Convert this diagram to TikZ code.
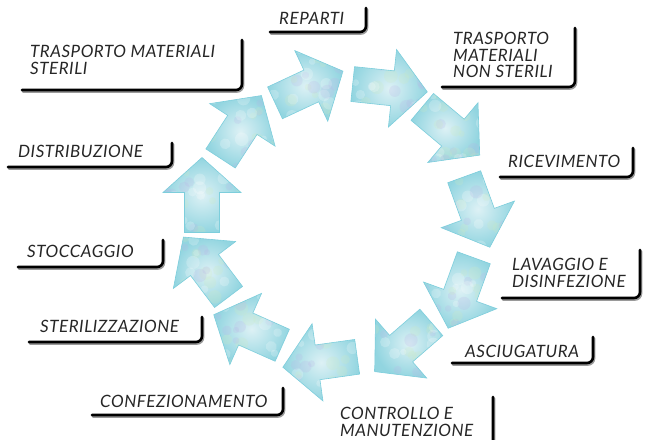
\documentclass[tikz,border=0pt]{standalone}
\usepackage{fontspec}
\setmainfont{Lato}
\usepackage{tikz}
\definecolor{ciano}{HTML}{92D5E0}
\definecolor{azzurrino}{HTML}{DDF1F5}
\definecolor{bordo}{HTML}{7DCEDC}
\definecolor{lilla}{HTML}{B9B4E6}
\definecolor{verdino}{HTML}{CDEBC0}
\definecolor{ombra}{HTML}{9A9A9A}
\tikzstyle{freccia}=[inner color=azzurrino, outer color=ciano]
\tikzstyle{macchia}=[opacity=0.22]
\tikzstyle{etichetta}=[anchor=north west, inner sep=0pt, align=left, text=black!85,
  font=\fontsize{17}{16.5}\selectfont\itshape\addfontfeature{LetterSpace=3}]
\tikzstyle{cornice}=[line width=2.6pt, rounded corners=6pt, line cap=round]
\newcommand{\sagoma}{(-37.5,-17.5) -- (2.5,-17.5) -- (2.5,-39) -- (37.5,0) -- (2.5,39) -- (2.5,17.5) -- (-37.5,17.5) -- cycle}

\begin{document}
\begin{tikzpicture}[x=1pt, y=-1pt]
	\useasboundingbox (0,0) rectangle (645,439);
	\pgfmathsetseed{7}
	% frecce del ciclo
	\foreach \x/\y/\a in {202/195/90, 241/127/57, 309/87/25, 390/88/-6, 451/131/-40,
		477/212/-70, 461/293/-110, 403/347/-139, 320/362/188, 248/330/156, 206/267/127}
	{
		\begin{scope}[shift={(\x,\y)}, rotate=\a]
			\shade[freccia] \sagoma;
			\begin{scope}
				\clip \sagoma;
				\foreach \i in {1,...,12}
					\foreach \c in {lilla,verdino,white}
						\fill[macchia, \c] (rand*37,rand*39) circle ({5+2*rand});
			\end{scope}
			\draw[bordo, line width=0.6pt] \sagoma;
		\end{scope}
	}
	% etichette
	\node[etichetta] (reparti) at (279,12) {REPARTI};
	\node[etichetta] (nonsterili) at (453,32) {TRASPORTO\\MATERIALI\\NON STERILI};
	\node[etichetta] (ricevimento) at (508,155) {RICEVIMENTO};
	\node[etichetta] (lavaggio) at (512,258) {LAVAGGIO E\\DISINFEZIONE};
	\node[etichetta] (asciugatura) at (465,345) {ASCIUGATURA};
	\node[etichetta] (controllo) at (340,407) {CONTROLLO E\\MANUTENZIONE};
	\node[etichetta] (confezionamento) at (100,395) {CONFEZIONAMENTO};
	\node[etichetta] (sterilizzazione) at (40,320) {STERILIZZAZIONE};
	\node[etichetta] (stoccaggio) at (27,245) {STOCCAGGIO};
	\node[etichetta] (distribuzione) at (18,145) {DISTRIBUZIONE};
	\node[etichetta] (sterili) at (30,45) {TRASPORTO MATERIALI\\STERILI};
	% cornici
	\foreach \l/\b/\r/\t in {270/32/366/8, 442/87/575/28, 500/177/633/148, 502/298/640/250,
		452/363/593/337, 330/450/493/397, 92/415/283/388, 29/342/202/317,
		18/267/163/240, 8/167/172/143, 22/90/242/40}
	{
		\draw[cornice, ombra] (\l+1,\b+1.5) -| (\r+1,\t+1.5);
		\draw[cornice, black] (\l,\b) -| (\r,\t);
	}
\end{tikzpicture}
\end{document}
